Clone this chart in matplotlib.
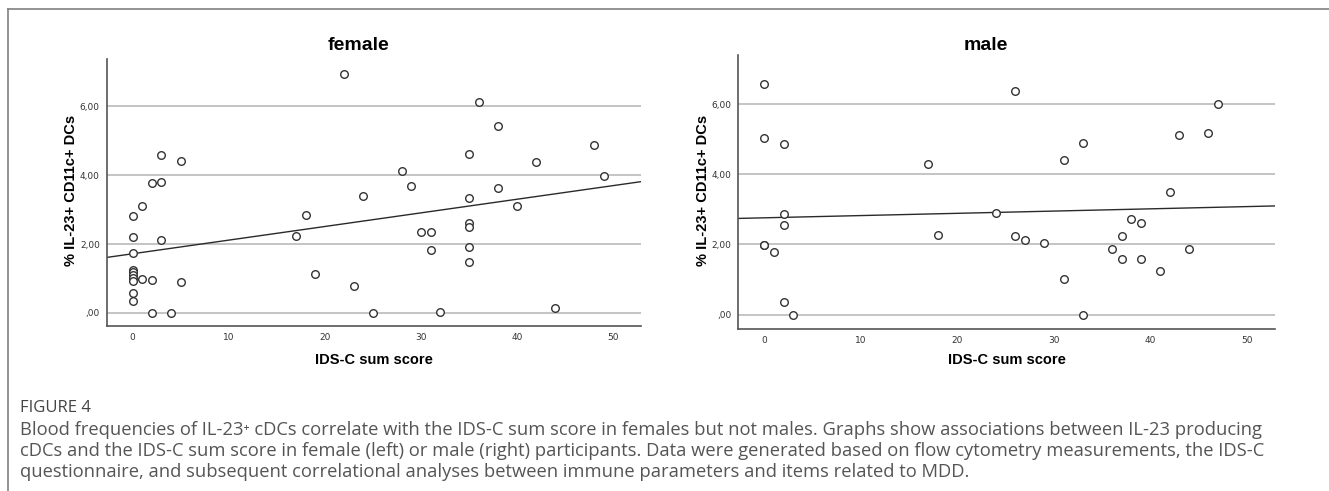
import numpy as np
import matplotlib
matplotlib.use("Agg")
import matplotlib.pyplot as plt
from matplotlib.ticker import FuncFormatter
from matplotlib.lines import Line2D

#Values (IDS-C sum score, % IL-23+ CD11c+ DCs)
female_x = [22,3,5,2,3,1,0,0,3,0,0,0,0,0,1,2,0,5,0,0,2,4,17,18,19,23,
            36,38,48,35,42,28,49,29,24,38,35,40,35,35,30,31,31,35,35,25,32,44]
female_y = [6.95,4.58,4.42,3.77,3.81,3.11,2.83,2.22,2.11,1.73,1.25,1.18,1.10,1.02,0.98,0.96,0.93,0.91,0.57,0.36,0.0,0.0,2.24,2.84,1.12,0.79,
            6.12,5.44,4.88,4.63,4.40,4.12,3.99,3.68,3.40,3.63,3.35,3.12,2.62,2.49,2.36,2.36,1.84,1.93,1.47,0.0,0.03,0.13]

male_x = [0,0,2,17,2,2,0,0,1,2,3,18,24,
          26,47,43,46,33,31,42,38,39,26,27,29,37,36,44,37,39,41,31,33]
male_y = [6.57,5.04,4.85,4.30,2.86,2.55,1.99,1.99,1.79,0.37,0.0,2.26,2.89,
          6.38,6.0,5.12,5.18,4.88,4.42,3.51,2.74,2.62,2.24,2.12,2.03,2.24,1.86,1.87,1.60,1.58,1.23,1.03,0.0]

#fit lines as drawn (intercept, slope)
female_fit = (1.72, 0.0396)
male_fit = (2.76, 0.0064)

y_ticks = [0, 2, 4, 6]
x_ticks = [0, 10, 20, 30, 40, 50]
panel_titles = ["female", "male"]
x_label = "IDS-C sum score"
y_label = "% IL-23+ CD11c+ DCs"

caption_head = "FIGURE 4"
caption_lines = [
    "Blood frequencies of IL-23\u207a cDCs correlate with the IDS-C sum score in females but not males. Graphs show associations between IL-23 producing",
    "cDCs and the IDS-C sum score in female (left) or male (right) participants. Data were generated based on flow cytometry measurements, the IDS-C",
    "questionnaire, and subsequent correlational analyses between immune parameters and items related to MDD.",
]

W, H = 1329, 491

def comma_fmt(v, pos):
    s = "%.2f" % v
    s = s.replace(".", ",")
    if s.startswith("0,"):
        s = s[1:]
    return s

fig = plt.figure(figsize=(W/100, H/100), dpi=100)
fig.patch.set_facecolor("white")

ax_f = fig.add_axes([0.0803, 0.3367, 0.4020, 0.5425])
ax_m = fig.add_axes([0.5555, 0.3299, 0.4039, 0.5580])

#(axes, x, y, fit, ylim, title x px, ylabel x px)
panels = [(ax_f, female_x, female_y, female_fit, (-0.37, 7.37), 358, 71),
          (ax_m, male_x, male_y, male_fit, (-0.41, 7.40), 986, 703)]

for i, (ax, xs, ys, fit, ylim, tx, lx) in enumerate(panels):
    ax.set_xlim(-2.7, 52.9)
    ax.set_ylim(*ylim)
    for t in y_ticks:
        ax.axhline(t, color="#c4c4c4", lw=1.4, zorder=1)
    ax.scatter(xs, ys, s=30, facecolors="white", edgecolors="#333333", linewidths=1.0, zorder=3)
    xx = np.array(ax.get_xlim())
    ax.plot(xx, fit[0] + fit[1]*xx, color="#2a2a2a", lw=1.0, zorder=2)

    ax.set_xticks(x_ticks)
    ax.set_yticks(y_ticks)
    ax.yaxis.set_major_formatter(FuncFormatter(comma_fmt))
    ax.tick_params(length=0, labelsize=6.5, colors="#333333", pad=5)
    for side in ["top", "right"]:
        ax.spines[side].set_visible(False)
    for side in ["left", "bottom"]:
        ax.spines[side].set_color("#555555")
        ax.spines[side].set_linewidth(1.2)

    #labels placed in figure pixels
    pos = ax.get_position()
    fig.text((pos.x0+pos.x1)/2, 1-360/H, x_label, fontsize=10.5, fontweight="bold",
             family="Liberation Sans", ha="center", va="center")
    fig.text(lx/W, 1-190/H, y_label, fontsize=10.5, fontweight="bold", family="Liberation Sans",
             rotation=90, ha="center", va="center")
    fig.text(tx/W, 1-45/H, panel_titles[i], fontsize=14, fontweight="bold",
             family="Liberation Sans", ha="center", va="center")

#frame lines at top and left
fig.add_artist(Line2D([8/W, 1], [1-9/H, 1-9/H], color="#808080", lw=1.2, transform=fig.transFigure))
fig.add_artist(Line2D([8/W, 8/W], [0, 1-9/H], color="#808080", lw=1.2, transform=fig.transFigure))

#caption
fig.text(20/W, 1-408/H, caption_head, fontsize=12, color="#444444", family=["Open Sans", "DejaVu Sans"], va="center")
for k, line in enumerate(caption_lines):
    fig.text(20/W, 1-(430+21*k)/H, line, fontsize=13.2, color="#555555",
             family=["Open Sans", "DejaVu Sans"], va="center")

plt.savefig("out.png", dpi=100)
plt.close(fig)
